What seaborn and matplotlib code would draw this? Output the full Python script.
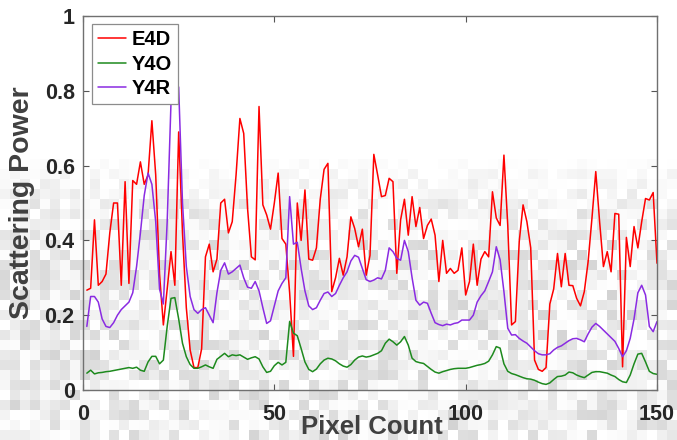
import numpy as np
import pandas as pd
import matplotlib
matplotlib.use("Agg")
import matplotlib.pyplot as plt
import seaborn as sns
from matplotlib.font_manager import FontProperties

# Scattering power profiles along a 150-pixel line
pixel = np.arange(1, 151)

e4d = [0.267, 0.272, 0.455, 0.28, 0.29, 0.31, 0.42, 0.50, 0.50, 0.28,
       0.557, 0.285, 0.56, 0.55, 0.61, 0.55, 0.575, 0.72, 0.575, 0.31,
       0.174, 0.27, 0.37, 0.28, 0.69, 0.42, 0.22, 0.107, 0.06, 0.06,
       0.11, 0.356, 0.39, 0.316, 0.35, 0.50, 0.51, 0.42, 0.45, 0.575,
       0.726, 0.686, 0.486, 0.356, 0.348, 0.758, 0.495, 0.468, 0.43, 0.50,
       0.58, 0.405, 0.39, 0.26, 0.09, 0.50, 0.40, 0.535, 0.35, 0.347,
       0.38, 0.51, 0.59, 0.606, 0.263, 0.30, 0.352, 0.307, 0.356, 0.463,
       0.432, 0.383, 0.43, 0.307, 0.36, 0.63, 0.575, 0.517, 0.52, 0.566,
       0.557, 0.312, 0.455, 0.51, 0.414, 0.517, 0.437, 0.488, 0.405, 0.44,
       0.457, 0.414, 0.29, 0.40, 0.312, 0.325, 0.312, 0.32, 0.38, 0.254,
       0.29, 0.39, 0.28, 0.35, 0.37, 0.356, 0.53, 0.46, 0.44, 0.628,
       0.44, 0.174, 0.183, 0.397, 0.495, 0.45, 0.38, 0.08, 0.055, 0.05,
       0.06, 0.23, 0.27, 0.365, 0.276, 0.365, 0.28, 0.279, 0.245, 0.225,
       0.263, 0.343, 0.459, 0.584, 0.45, 0.33, 0.37, 0.316, 0.472, 0.47,
       0.062, 0.408, 0.33, 0.437, 0.38, 0.45, 0.512, 0.508, 0.528, 0.339]

y4o = [0.045, 0.053, 0.043, 0.046, 0.047, 0.049, 0.05, 0.052, 0.054, 0.056,
       0.058, 0.06, 0.058, 0.061, 0.053, 0.05, 0.075, 0.09, 0.09, 0.07,
       0.08, 0.17, 0.245, 0.247, 0.19, 0.125, 0.089, 0.068, 0.058, 0.058,
       0.062, 0.067, 0.062, 0.058, 0.082, 0.09, 0.098, 0.089, 0.094, 0.092,
       0.094, 0.088, 0.082, 0.086, 0.089, 0.083, 0.062, 0.047, 0.05, 0.065,
       0.074, 0.067, 0.074, 0.183, 0.152, 0.145, 0.111, 0.075, 0.055, 0.049,
       0.056, 0.07, 0.08, 0.085, 0.083, 0.078, 0.07, 0.064, 0.061, 0.068,
       0.08, 0.088, 0.091, 0.088, 0.09, 0.094, 0.098, 0.105, 0.125, 0.136,
       0.129, 0.12, 0.129, 0.143, 0.12, 0.085, 0.076, 0.073, 0.071, 0.063,
       0.055, 0.048, 0.045, 0.049, 0.052, 0.055, 0.057, 0.058, 0.058, 0.058,
       0.06, 0.063, 0.066, 0.068, 0.071, 0.077, 0.094, 0.116, 0.112, 0.07,
       0.05, 0.044, 0.041, 0.037, 0.033, 0.03, 0.029, 0.026, 0.021, 0.017,
       0.015, 0.019, 0.028, 0.036, 0.037, 0.04, 0.048, 0.046, 0.04, 0.036,
       0.033, 0.04, 0.047, 0.049, 0.049, 0.047, 0.045, 0.04, 0.036, 0.028,
       0.022, 0.02, 0.04, 0.07, 0.096, 0.098, 0.075, 0.05, 0.044, 0.042]

y4r = [0.17, 0.25, 0.25, 0.235, 0.19, 0.17, 0.167, 0.18, 0.20, 0.215,
       0.225, 0.235, 0.26, 0.33, 0.42, 0.52, 0.58, 0.55, 0.45, 0.27,
       0.23, 0.45, 0.77, 0.82, 0.81, 0.50, 0.33, 0.25, 0.215, 0.205,
       0.215, 0.22, 0.20, 0.18, 0.26, 0.32, 0.34, 0.31, 0.316, 0.325,
       0.334, 0.30, 0.275, 0.272, 0.29, 0.265, 0.22, 0.178, 0.185, 0.225,
       0.265, 0.285, 0.30, 0.517, 0.39, 0.395, 0.325, 0.265, 0.225, 0.215,
       0.22, 0.24, 0.258, 0.262, 0.25, 0.258, 0.28, 0.30, 0.316, 0.345,
       0.36, 0.355, 0.325, 0.295, 0.29, 0.294, 0.30, 0.297, 0.32, 0.38,
       0.37, 0.352, 0.347, 0.40, 0.37, 0.30, 0.24, 0.227, 0.235, 0.232,
       0.205, 0.18, 0.175, 0.172, 0.176, 0.174, 0.178, 0.18, 0.187, 0.187,
       0.187, 0.20, 0.235, 0.252, 0.265, 0.29, 0.316, 0.383, 0.348, 0.263,
       0.165, 0.147, 0.148, 0.138, 0.131, 0.125, 0.115, 0.105, 0.097, 0.094,
       0.094, 0.097, 0.107, 0.114, 0.118, 0.125, 0.132, 0.137, 0.138, 0.134,
       0.129, 0.15, 0.168, 0.178, 0.17, 0.16, 0.15, 0.14, 0.13, 0.111,
       0.089, 0.105, 0.138, 0.19, 0.26, 0.28, 0.254, 0.17, 0.156, 0.183]

series_names = ["E4D", "Y4O", "Y4R"]
series_colors = ["#ff0000", "#1e8a1e", "#8a2be2"]

x_ticks = [0, 50, 100, 150]
x_tick_labels = ["0", "50", "100", "150"]
y_ticks = [0, 0.2, 0.4, 0.6, 0.8, 1.0]
y_tick_labels = ["0", "0.2", "0.4", "0.6", "0.8", "1"]

df = pd.DataFrame({
    "Pixel Count": np.concatenate([pixel, pixel, pixel]),
    "Scattering Power": np.concatenate([e4d, y4o, y4r]),
    "Series": np.repeat(series_names, len(pixel)),
})

sns.set_theme(style="white")
plt.rcParams["font.family"] = ["Liberation Sans", "DejaVu Sans"]
plt.rcParams["font.weight"] = "bold"

W, H = 677, 440
fig = plt.figure(figsize=(W / 100, H / 100), dpi=100)
fig.patch.set_facecolor("white")

# faint blocky grey backdrop, clean at the top and denser towards the bottom
rows, cols = H // 10, int(np.ceil(W / 10))
row_strength = np.interp(np.arange(rows), [0, 15, 17, 20, 24, 44],
                         [0.0, 0.0, 0.05, 0.12, 0.17, 0.17])
rng = np.random.default_rng(7)
tex = 1.0 - row_strength[:, None] * rng.random((rows, cols)) ** 1.8
bg = fig.add_axes([0, 0, 1, 1], zorder=0)
bg.imshow(tex, cmap="gray", vmin=0, vmax=1, aspect="auto",
          interpolation="nearest", extent=[0, 1, 0, 1])
bg.set_axis_off()

ax = fig.add_axes([83 / W, 1 - 390 / H, 574 / W, 374 / H], zorder=1)
ax.patch.set_alpha(0)

sns.lineplot(data=df, x="Pixel Count", y="Scattering Power", hue="Series",
             palette=dict(zip(series_names, series_colors)),
             linewidth=1.1, ax=ax, legend=False, estimator=None)

ax.set_xlim(0, 150)
ax.set_ylim(0, 1)
tick_color = "#262626"
ax.set_xticks(x_ticks)
ax.set_xticklabels(x_tick_labels, fontweight="bold", fontsize=15.5,
                   color=tick_color)
ax.set_yticks(y_ticks)
ax.set_yticklabels(y_tick_labels, fontweight="bold", fontsize=15.5,
                   color=tick_color)

ax.tick_params(axis="both", direction="in", length=4, width=0.8,
               color="#555555", top=True, right=True, bottom=True, left=True)
ax.tick_params(axis="x", pad=10)
ax.tick_params(axis="y", pad=6)

for sp in ax.spines.values():
    sp.set_visible(True)
    sp.set_color("#707070")
    sp.set_linewidth(1.0)

ax.set_xlabel("Pixel Count", fontsize=18.5, fontweight="bold", color="#404040")
ax.set_ylabel("Scattering Power", fontsize=20.5, fontweight="bold", color="#404040")
ax.xaxis.set_label_coords(0.503, -0.066)
ax.yaxis.set_label_coords(-0.083, 0.5)

handles = [plt.Line2D([], [], color=c, lw=1.1) for c in series_colors]
leg_font = FontProperties(family=["Liberation Sans", "DejaVu Sans"],
                          weight="bold", size=14.5)
leg = ax.legend(handles, series_names, loc="upper left",
                bbox_to_anchor=(0.0157, 0.9786), borderaxespad=0,
                fancybox=False, frameon=True, framealpha=1,
                edgecolor="#8c8c8c", facecolor="white", prop=leg_font,
                handlelength=1.4, handletextpad=0.25, borderpad=0.3,
                labelspacing=0.28)
leg.get_frame().set_linewidth(0.9)
for t in leg.get_texts():
    t.set_color("black")
    t.set_fontweight("bold")

fig.savefig("out.png", dpi=100)
